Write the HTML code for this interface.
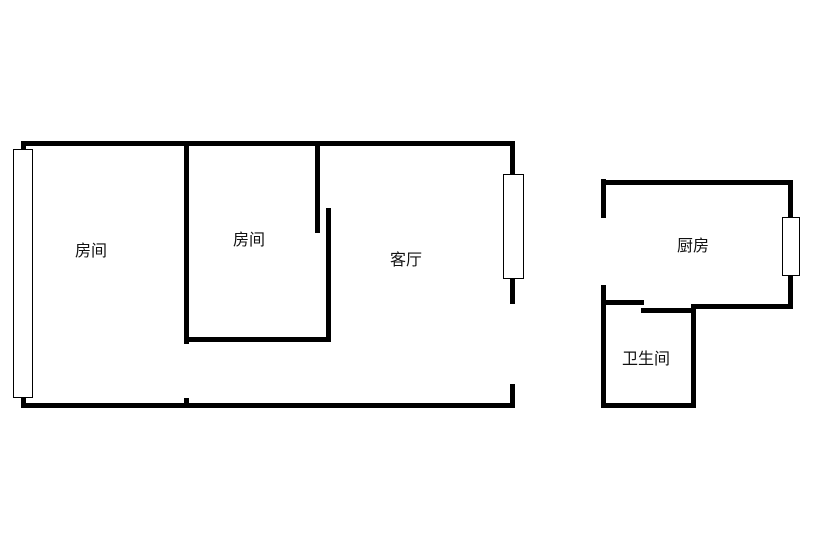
<!DOCTYPE html>
<html>
<head>
<meta charset="utf-8">
<style>
html,body{margin:0;padding:0;background:#fff;width:828px;height:533px;overflow:hidden}
svg{display:block}
text{font-family:"Liberation Sans","WenQuanYi Zen Hei","Noto Sans CJK SC",sans-serif;font-size:16px;fill:#111}
</style>
</head>
<body>
<svg width="828" height="533" viewBox="0 0 828 533" xmlns="http://www.w3.org/2000/svg">
<rect width="828" height="533" fill="#fff"/>
<g fill="#000">
<rect x="21" y="141" width="494" height="5"/>
<rect x="21" y="141" width="5" height="8"/>
<rect x="21" y="398" width="5" height="10"/>
<rect x="21" y="403" width="494" height="5"/>
<rect x="510" y="141" width="5" height="33"/>
<rect x="510" y="279" width="5" height="25"/>
<rect x="510" y="384" width="5" height="24"/>
<rect x="184" y="141" width="5" height="203"/>
<rect x="184" y="337" width="147" height="5"/>
<rect x="326" y="208" width="5" height="134"/>
<rect x="315" y="141" width="5" height="92"/>
<rect x="184" y="398" width="5" height="6"/>
<rect x="601" y="180" width="192" height="5"/>
<rect x="601" y="179" width="5" height="39"/>
<rect x="788" y="180" width="5" height="37"/>
<rect x="788" y="275" width="5" height="34"/>
<rect x="691" y="304" width="102" height="5"/>
<rect x="601" y="285" width="5" height="123"/>
<rect x="601" y="300" width="43" height="5"/>
<rect x="641" y="308" width="55" height="5"/>
<rect x="691" y="304" width="5" height="104"/>
<rect x="601" y="403" width="95" height="5"/>
</g>
<g fill="#fff" stroke="#000" stroke-width="1">
<rect x="13.5" y="149.5" width="19" height="248"/>
<rect x="503.5" y="174.5" width="20" height="104"/>
<rect x="782.5" y="217.5" width="17" height="58"/>
</g>
<text x="75" y="256">房间</text>
<text x="233" y="245">房间</text>
<text x="390" y="265">客厅</text>
<text x="677" y="251">厨房</text>
<text x="622" y="364">卫生间</text>
</svg>
</body>
</html>
